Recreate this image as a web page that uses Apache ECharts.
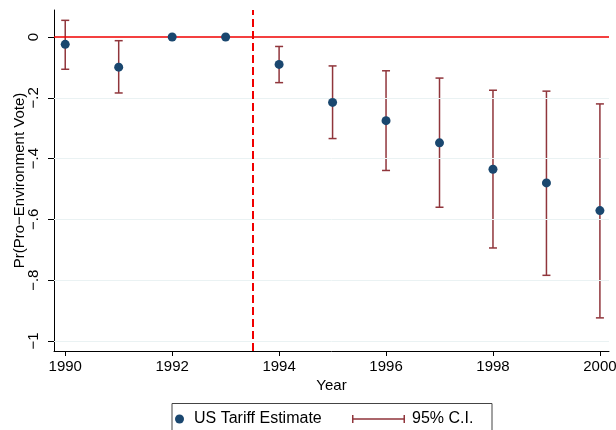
<!DOCTYPE html>
<html>
<head>
<meta charset="utf-8">
<script src="https://cdn.jsdelivr.net/npm/echarts@6/dist/echarts.min.js"></script>
<style>html,body{margin:0;padding:0;background:#fff;}#c{width:616px;height:430px;}</style>
</head>
<body>
<div id="c"></div>
<script>
var years = [1990, 1991, 1992, 1993, 1994, 1995, 1996, 1997, 1998, 1999, 2000];
var estimates = [-0.024, -0.099, 0, 0, -0.090, -0.215, -0.275, -0.348, -0.435, -0.480, -0.571];
var ciUpper = [0.055, -0.012, null, null, -0.031, -0.095, -0.111, -0.135, -0.175, -0.178, -0.220];
var ciLower = [-0.106, -0.184, null, null, -0.150, -0.334, -0.439, -0.560, -0.694, -0.784, -0.924];
var xTickValues = [1990, 1992, 1994, 1996, 1998, 2000];
var yTickValues = [0, -0.2, -0.4, -0.6, -0.8, -1];
var yTickLabels = ['0', '\u2212.2', '\u2212.4', '\u2212.6', '\u2212.8', '\u22121'];
var zeroLine = [0];
var cutoffYear = [1993.5];

var FONT = 'Liberation Sans, Arial, Helvetica, sans-serif';
var NAVY = '#1a476f';
var MAROON = '#90353b';

var pointData = years.map(function (y, i) { return [y, estimates[i]]; });
var ciData = [];
years.forEach(function (y, i) {
  if (ciUpper[i] !== null && ciLower[i] !== null) ciData.push([y, ciLower[i], ciUpper[i]]);
});

var chart = echarts.init(document.getElementById('c'), null, { renderer: 'canvas' });
chart.setOption({
  animation: false,
  backgroundColor: '#fff',
  textStyle: { fontFamily: FONT },
  grid: { left: 54, right: 7, top: 10, bottom: 79, containLabel: false, outerBoundsMode: 'none' },
  xAxis: {
    type: 'value', min: 1989.79, max: 2000.17,
    name: 'Year', nameLocation: 'middle', nameGap: 27, nameMoveOverlap: false,
    nameTextStyle: { color: '#000', fontSize: 15, fontFamily: FONT },
    axisLine: { show: true, onZero: false, lineStyle: { color: '#000', width: 1 } },
    axisTick: { show: true, length: 5, customValues: xTickValues, lineStyle: { color: '#000' } },
    axisLabel: { customValues: xTickValues, color: '#000', fontSize: 15, margin: 8, fontFamily: FONT,
      formatter: function (v) { return String(v); } },
    splitLine: { show: false }
  },
  yAxis: {
    type: 'value', min: -1.033, max: 0.089,
    name: 'Pr(Pro\u2212Environment Vote)', nameLocation: 'middle', nameGap: 27, nameMoveOverlap: false,
    nameTextStyle: { color: '#000', fontSize: 15, fontFamily: FONT },
    axisLine: { show: true, onZero: false, lineStyle: { color: '#000', width: 1 } },
    axisTick: { show: true, length: 6, customValues: yTickValues, lineStyle: { color: '#000' } },
    axisLabel: { customValues: yTickValues, color: '#000', fontSize: 15, margin: 13, rotate: 90, fontFamily: FONT,
      formatter: function (v) {
        for (var i = 0; i < yTickValues.length; i++) {
          if (Math.abs(yTickValues[i] - v) < 1e-6) return yTickLabels[i];
        }
        return '';
      } },
    splitLine: { show: false }
  },
  legend: [
    {
      data: [{ name: 'US Tariff Estimate', icon: 'circle', itemStyle: { color: NAVY } }],
      left: 175, top: 411, padding: 0, itemWidth: 19, itemHeight: 9,
      textStyle: { color: '#000', fontSize: 16, fontFamily: FONT },
      selectedMode: false
    },
    {
      data: [{ name: '95% C.I.', icon: 'path://M0,0H1.5V3.25H51.5V0H53V8H51.5V4.75H1.5V8H0Z', itemStyle: { color: MAROON, borderWidth: 0 } }],
      left: 352, top: 411, padding: 0, itemWidth: 53, itemHeight: 8,
      textStyle: { color: '#000', fontSize: 16, fontFamily: FONT, padding: [0, 0, 0, 2] },
      selectedMode: false
    }
  ],
  graphic: [
    { type: 'rect', shape: { x: 172, y: 403.5, width: 320, height: 40 }, style: { fill: 'none', stroke: '#444', lineWidth: 1 }, silent: true }
  ],
  series: [
    {
      name: 'gridlines', type: 'line', data: [], silent: true,
      markLine: {
        silent: true, symbol: 'none', label: { show: false },
        lineStyle: { color: '#eaf2f3', width: 1, type: 'solid' },
        data: yTickValues.filter(function (v) { return v !== 0; }).map(function (v) { return { yAxis: v }; })
      }
    },
    {
      name: 'refLines', type: 'line', data: [], silent: true, z: 3,
      markLine: {
        silent: true, symbol: 'none', label: { show: false },
        data: zeroLine.map(function (v) { return { yAxis: v, lineStyle: { color: '#f00000', width: 1.6, type: 'solid' } }; })
          .concat(cutoffYear.map(function (v) { return { xAxis: v, lineStyle: { color: '#f00000', width: 2, type: [8, 4] } }; }))
      }
    },
    {
      name: '95% C.I.', type: 'custom', z: 4,
      itemStyle: { color: MAROON },
      data: ciData,
      encode: { x: 0, y: [1, 2] },
      renderItem: function (params, api) {
        var x = api.value(0);
        var lo = api.coord([x, api.value(1)]);
        var hi = api.coord([x, api.value(2)]);
        var cap = 4;
        var style = { stroke: MAROON, lineWidth: 1.5, fill: null };
        return {
          type: 'group',
          children: [
            { type: 'line', shape: { x1: lo[0], y1: lo[1], x2: hi[0], y2: hi[1] }, style: style },
            { type: 'line', shape: { x1: lo[0] - cap, y1: lo[1], x2: lo[0] + cap, y2: lo[1] }, style: style },
            { type: 'line', shape: { x1: hi[0] - cap, y1: hi[1], x2: hi[0] + cap, y2: hi[1] }, style: style }
          ]
        };
      }
    },
    {
      name: 'US Tariff Estimate', type: 'scatter', z: 5,
      symbol: 'circle', symbolSize: 9,
      itemStyle: { color: NAVY, opacity: 1 },
      data: pointData
    }
  ]
});
</script>
</body>
</html>
